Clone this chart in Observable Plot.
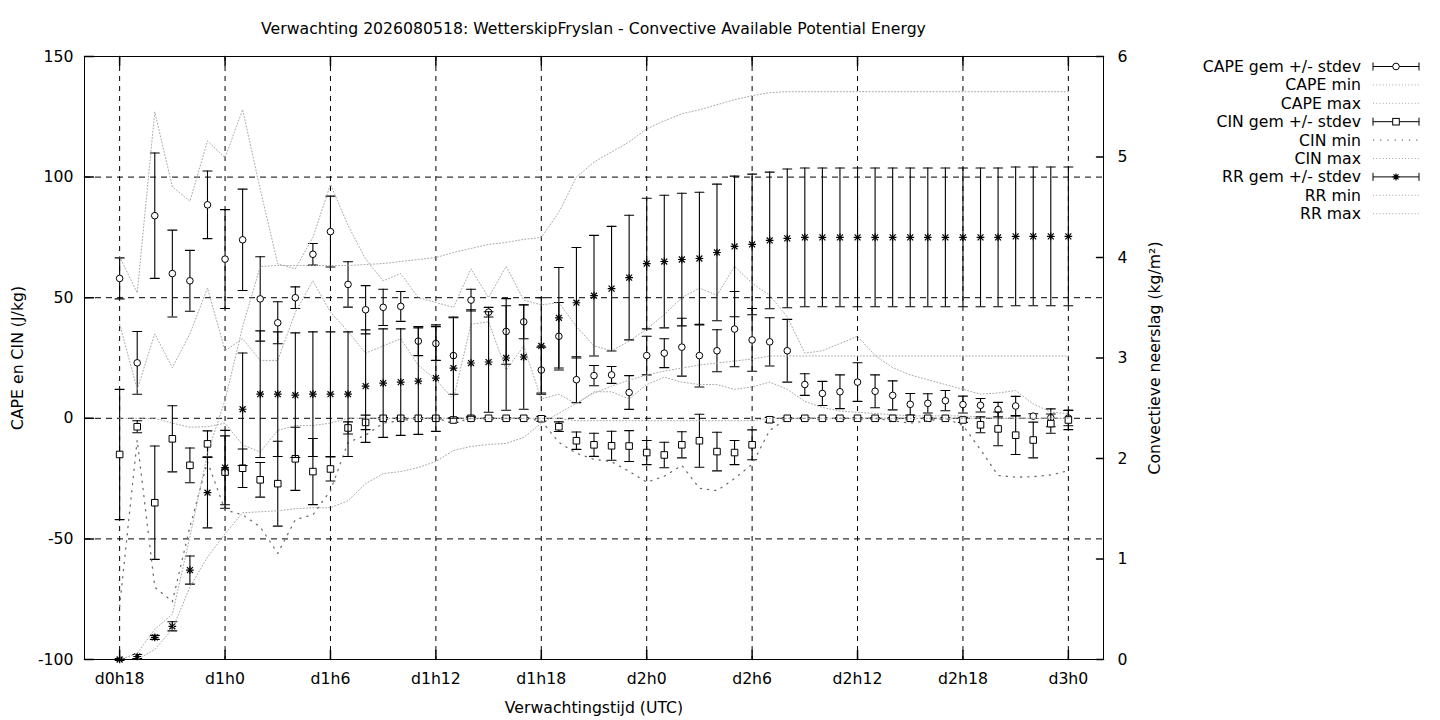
<!DOCTYPE html>
<html><head><meta charset="utf-8">
<script src="https://cdn.jsdelivr.net/npm/d3@7"></script>
<script src="https://cdn.jsdelivr.net/npm/@observablehq/plot@0.6"></script>
<style>
body{margin:0;background:#fff;font-family:"DejaVu Sans",sans-serif;}
#wrap{position:relative;width:1440px;height:720px;overflow:hidden;}
#title{position:absolute;top:19px;left:84px;width:1019px;text-align:center;font-size:15.7px;line-height:20px;white-space:nowrap;}
#chart{position:absolute;left:0;top:0;}
#legend{position:absolute;left:1150px;top:40px;}
</style></head>
<body><div id="wrap"><div id="chart"></div><div id="title">Verwachting 2026080518: WetterskipFryslan - Convective Available Potential Energy</div><div id="legend"></div></div>
<script>
// forecast hours (d0h18 .. d3h0)
const hours = [18,19,20,21,22,23,24,25,26,27,28,29,30,31,32,33,34,35,36,37,38,39,40,41,42,43,44,45,46,47,48,49,50,51,52,53,54,55,56,57,58,59,60,61,62,63,64,65,66,67,68,69,70,71,72];
const xTickHours = [18,24,30,36,42,48,54,60,66,72];
const xTickLabels = ["d0h18","d1h0","d1h6","d1h12","d1h18","d2h0","d2h6","d2h12","d2h18","d3h0"];
const yTicks = [-100,-50,0,50,100,150];
const yGrid = [-50,0,50,100];
const rrTicks = [0,1,2,3,4,5,6];

// CAPE (J/kg)
const capeMean = [58,23,84,60,57,88.5,66,74,49.5,39.6,50,68,77.4,55.5,45,46,46.4,32,31,26,49,44,36,40,20,34,16,17.7,18,10.7,26,27,29.5,26,28,37,32.5,31.7,28,14,10.3,11,15,11.2,9.5,5.8,6.2,7.3,5.7,5.4,3.6,5.1,0.9,0.2,0.1];
const capeSd = [8.5,13,26,18,12.6,14,20.5,21,17.5,8.7,4.5,4.5,14.7,9.4,10,7.5,6.2,6,7,16,4.5,2,13.6,7,9.5,14,9.5,4.2,3.5,7,8,6,12,13,8.7,15.6,13,10,13,4.5,5,7,8,6.8,6,4.5,4,4.2,3.5,2.8,3,4,1,3.7,3.2];
const capeMin = [39,12,35,21,35,54,28,33,24,24,44,57,44,36,27,30,33,22,16,8,39,40,20,30,8,10,6,11,11,8,14,17,15,14,14,12,13,15,12,7,4.5,3,2.5,2,1.5,1,1,1,1,0.5,0,0,0,0,0];
const capeMax = [67,52,127,96,90,115,108,128,95,64,62,75,97,80,66,57,60,50,48,46,62,50,63,49,47,48,38,30,28,32,37,43,50,54,51,63,56,51,42,27,28,31,34,26,21,18,16,14,12,10,10.5,11.5,6,2.5,2];

// CIN (J/kg)
const cinMean = [-15,-3.5,-35,-8.5,-19.5,-10.6,-22.3,-20.7,-25.5,-27.1,-16.8,-22.1,-21,-4,-1.7,0,0,0,0,-0.7,0,0,0,0,-0.2,-3.5,-9.3,-11,-11.4,-11.5,-14.2,-15.2,-11,-9.3,-13.8,-14.2,-11,-0.6,0,0,0,0,0,0,0,0,0,0,-0.7,-2.7,-4.4,-7,-9,-2.2,-0.7];
const cinSd = [27,2.5,23.5,13.7,7.2,5.4,15,8,7.2,17.6,13.1,13.7,5,2.5,3,0.3,0.3,0.3,0.3,1,0.3,0.3,0.3,0.3,1,2,3.6,4.8,6,6.4,5,5.3,5.4,11,8,5,6.2,1,0.3,0.3,0.3,0.3,0.3,0.3,0.3,0.3,0.3,0.3,1,3.3,7,8,7.4,4,4];
const cinMin = [-78,-9,-70,-76,-45,-18,-38,-40,-45,-56,-42,-40,-30,-10,-7,-2,-1,0,0,-2,0,0,0,0,-1,-10,-14.5,-17,-18,-22,-26.5,-24,-19.5,-29,-30,-25,-19,-5,0,0,0,0,0,0,-1,-2,-1,0,-3,-13,-23.7,-24.4,-24.2,-23.5,-21.7];
const cinMax = [0,0,0,-2,-3.7,-3.5,-2,-11,-14,-5,-3,-3,-2,0,0,0,0,0,0,0,0,0,0,0,0,0,-1,-1,-1,-1,-1,-1,-1,-1,-1,-1,-1,0,0,0,0,0,0,0,0,0,0,0,0,0,0,0,0,0,0];

// Convective precipitation RR (kg/m2), right axis
const rrMean = [0,0.03,0.22,0.33,0.89,1.66,1.91,2.49,2.64,2.64,2.63,2.64,2.64,2.64,2.72,2.75,2.76,2.77,2.8,2.9,2.95,2.96,3.0,3.01,3.12,3.4,3.55,3.62,3.69,3.8,3.94,3.96,3.98,3.99,4.05,4.11,4.13,4.17,4.19,4.2,4.2,4.2,4.2,4.2,4.2,4.2,4.2,4.2,4.2,4.2,4.2,4.21,4.21,4.21,4.21];
const rrSd = [0.01,0.02,0.02,0.045,0.14,0.35,0.37,0.56,0.63,0.62,0.62,0.62,0.62,0.62,0.56,0.54,0.53,0.53,0.53,0.5,0.53,0.5,0.52,0.52,0.48,0.5,0.55,0.6,0.62,0.62,0.65,0.66,0.66,0.66,0.68,0.7,0.7,0.68,0.69,0.69,0.69,0.69,0.69,0.69,0.69,0.69,0.69,0.69,0.69,0.69,0.69,0.69,0.69,0.69,0.69];
const rrMin = [0,0,0.1,0.3,0.72,1.02,1.25,1.46,1.47,1.48,1.5,1.51,1.51,1.58,1.75,1.85,1.87,1.91,1.97,2.08,2.12,2.14,2.15,2.21,2.35,2.45,2.55,2.65,2.72,2.78,2.83,2.87,2.9,2.93,2.95,2.97,2.99,3.02,3.02,3.02,3.02,3.02,3.02,3.02,3.02,3.02,3.02,3.02,3.02,3.02,3.02,3.02,3.02,3.02,3.02];
const rrMax = [0,0.06,0.3,0.45,1.22,2.05,2.58,3.31,3.91,3.92,3.92,3.92,3.92,3.92,3.93,3.94,3.96,3.98,4.0,4.05,4.09,4.13,4.15,4.18,4.2,4.45,4.8,4.95,5.05,5.15,5.28,5.36,5.43,5.47,5.52,5.57,5.61,5.64,5.65,5.65,5.65,5.65,5.65,5.65,5.65,5.65,5.65,5.65,5.65,5.65,5.65,5.65,5.65,5.65,5.65];

// dual axis mapping: right axis 0..6 <-> left axis -100..150
const rrToLeft = r => -100 + r * 250 / 6;
const leftToRR = v => (v + 100) * 6 / 250;

const rows = hours.map((h, i) => ({
  h,
  capeMean: capeMean[i], capeSd: capeSd[i], capeMin: capeMin[i], capeMax: capeMax[i],
  cinMean: cinMean[i], cinSd: cinSd[i], cinMin: cinMin[i], cinMax: cinMax[i],
  rrMean: rrMean[i], rrSd: rrSd[i], rrMin: rrMin[i], rrMax: rrMax[i]
}));

const lineShape = {draw(context, l) { context.moveTo(0, 0); context.lineTo(0, -l); }};
const labelByHour = new Map(xTickHours.map((h, i) => [h, xTickLabels[i]]));

function errorMarks(lo, hi) {
  return [
    Plot.ruleX(rows, {x: "h", y1: lo, y2: hi, stroke: "black", strokeWidth: 1.1}),
    Plot.vector(rows, {x: "h", y: lo, rotate: 90, length: 9, anchor: "middle", shape: lineShape, stroke: "black", strokeWidth: 1.1}),
    Plot.vector(rows, {x: "h", y: hi, rotate: 90, length: 9, anchor: "middle", shape: lineShape, stroke: "black", strokeWidth: 1.1})
  ];
}
const fine = {stroke: "#a8a8a8", strokeWidth: 1, strokeDasharray: "1,2.2"};
const sparse = {stroke: "#6e6e6e", strokeWidth: 1.3, strokeDasharray: "1.2,6"};

const chart = Plot.plot({
  width: 1440, height: 720,
  marginLeft: 84, marginRight: 337, marginTop: 56, marginBottom: 61,
  style: {fontFamily: "DejaVu Sans", fontSize: "15.7px", background: "white", color: "black", overflow: "visible"},
  x: {domain: [16, 74]},
  y: {domain: [-100, 150]},
  marks: [
    Plot.gridX(xTickHours, {stroke: "black", strokeOpacity: 1, strokeWidth: 1, strokeDasharray: "5,5"}),
    Plot.gridY(yGrid, {stroke: "black", strokeOpacity: 1, strokeWidth: 1, strokeDasharray: "6,5"}),
    // inward tics
    Plot.vector(yTicks, {y: d => d, frameAnchor: "left", rotate: 90, length: 9, anchor: "start", shape: lineShape, stroke: "black"}),
    Plot.vector(rrTicks, {y: d => rrToLeft(d), frameAnchor: "right", rotate: -90, length: 7, anchor: "start", shape: lineShape, stroke: "black"}),
    Plot.vector(xTickHours, {x: d => d, frameAnchor: "bottom", rotate: 0, length: 9, anchor: "start", shape: lineShape, stroke: "black"}),
    Plot.vector(xTickHours, {x: d => d, frameAnchor: "top", rotate: 180, length: 9, anchor: "start", shape: lineShape, stroke: "black"}),
    // CAPE
    ...errorMarks(d => d.capeMean - d.capeSd, d => d.capeMean + d.capeSd),
    Plot.dot(rows, {x: "h", y: "capeMean", r: 3.3, fill: "white", stroke: "black", strokeWidth: 1}),
    Plot.line(rows, {x: "h", y: "capeMin", ...fine}),
    Plot.line(rows, {x: "h", y: "capeMax", ...fine}),
    // CIN
    ...errorMarks(d => d.cinMean - d.cinSd, d => d.cinMean + d.cinSd),
    Plot.dot(rows, {x: "h", y: "cinMean", symbol: "square", r: 3.7, fill: "white", stroke: "black", strokeWidth: 1}),
    Plot.line(rows, {x: "h", y: "cinMin", ...sparse}),
    Plot.line(rows, {x: "h", y: "cinMax", ...fine}),
    // RR (right axis)
    ...errorMarks(d => rrToLeft(d.rrMean - d.rrSd), d => rrToLeft(d.rrMean + d.rrSd)),
    Plot.dot(rows, {x: "h", y: d => rrToLeft(d.rrMean), symbol: "plus", r: 2.6, stroke: "black", strokeWidth: 1.2}),
    Plot.dot(rows, {x: "h", y: d => rrToLeft(d.rrMean), symbol: "times", r: 2.8, stroke: "black", strokeWidth: 1.2}),
    Plot.line(rows, {x: "h", y: d => rrToLeft(d.rrMin), ...fine}),
    Plot.line(rows, {x: "h", y: d => rrToLeft(d.rrMax), ...fine}),
    Plot.frame({stroke: "black", strokeWidth: 1}),
    // axes
    Plot.axisX(xTickHours, {tickSize: 0, tickPadding: 13, tickFormat: d => labelByHour.get(d), label: "Verwachtingstijd (UTC)", labelAnchor: "center", labelOffset: 53, labelArrow: "none"}),
    Plot.axisY(yTicks, {anchor: "left", tickSize: 0, tickPadding: 11, tickFormat: d => String(d), label: "CAPE en CIN (J/kg)", labelAnchor: "center", labelOffset: 73, labelArrow: "none"}),
    Plot.axisY(rrTicks.map(rrToLeft), {anchor: "right", tickSize: 0, tickPadding: 14, tickFormat: v => String(Math.round(leftToRR(v))), label: "Convectieve neerslag (kg/m²)", labelAnchor: "center", labelOffset: 56, labelArrow: "none"})
  ]
});
document.getElementById("chart").appendChild(chart);

// legend (key)
const legendNames = ["CAPE gem +/- stdev","CAPE min","CAPE max","CIN gem +/- stdev","CIN min","CIN max","RR gem +/- stdev","RR min","RR max"];
const legendKinds = ["circle","fine","fine","square","sparse","fine","star","fine","fine"];
const lg = d3.select("#legend").append("svg").attr("width", 290).attr("height", 190)
  .style("font-family", "DejaVu Sans").style("font-size", "15.7px");
legendNames.forEach((name, i) => {
  const y = 26.5 + i * 18.4;
  lg.append("text").attr("x", 211).attr("y", y).attr("dy", "0.35em").attr("text-anchor", "end").text(name);
  const k = legendKinds[i];
  if (k === "fine" || k === "sparse") {
    const s = k === "fine" ? fine : sparse;
    lg.append("line").attr("x1", 223).attr("x2", 269).attr("y1", y).attr("y2", y)
      .attr("stroke", s.stroke).attr("stroke-width", s.strokeWidth).attr("stroke-dasharray", s.strokeDasharray);
  } else {
    lg.append("line").attr("x1", 223).attr("x2", 269).attr("y1", y).attr("y2", y).attr("stroke", "black");
    lg.append("line").attr("x1", 223).attr("x2", 223).attr("y1", y - 4).attr("y2", y + 4).attr("stroke", "black");
    lg.append("line").attr("x1", 269).attr("x2", 269).attr("y1", y - 4).attr("y2", y + 4).attr("stroke", "black");
    if (k === "circle") lg.append("circle").attr("cx", 246).attr("cy", y).attr("r", 3.3).attr("fill", "white").attr("stroke", "black");
    if (k === "square") lg.append("rect").attr("x", 242.7).attr("y", y - 3.3).attr("width", 6.6).attr("height", 6.6).attr("fill", "white").attr("stroke", "black");
    if (k === "star") {
      lg.append("path").attr("d", `M242.5,${y}H249.5M246,${y-3.5}V${y+3.5}M243.5,${y-2.5}L248.5,${y+2.5}M243.5,${y+2.5}L248.5,${y-2.5}`).attr("stroke", "black").attr("stroke-width", 1.2);
    }
  }
});
</script>
</body></html>
